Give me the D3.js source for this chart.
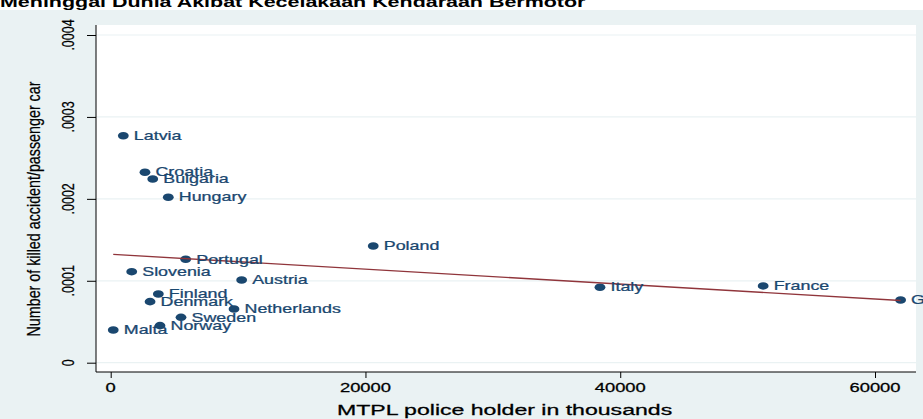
<!DOCTYPE html>
<html>
<head>
<meta charset="utf-8">
<script src="https://cdn.jsdelivr.net/npm/d3@7"></script>
<style>
    body { margin: 0; background: #ffffff; }
    text { font-family: Arial, "Liberation Sans", sans-serif; }
</style>
</head>
<body>
<div id="chart"></div>
<script>
// data
var countries = ["Latvia", "Croatia", "Bulgaria", "Hungary", "Poland", "Portugal", "Slovenia", "Austria",
    "Finland", "Denmark", "Netherlands", "Sweden", "Norway", "Malta", "Italy", "France", "Germany"]
var holders = [990, 2690, 3300, 4520, 20610, 5890, 1650, 10280, 3740, 3090, 9680, 5520, 3870, 200, 38410, 51220, 62010]
var killed = [0.000277, 0.0002325, 0.0002243, 0.000202, 0.0001425, 0.0001262, 0.0001111, 0.000101,
    0.0000839, 0.0000745, 0.0000656, 0.0000554, 0.0000452, 0.0000399, 0.0000921, 0.0000937, 0.0000766]
var xTicks = [0, 20000, 40000, 60000]
var yTicks = [0, 0.0001, 0.0002, 0.0003, 0.0004]
var yTickLabels = ["0", ".0001", ".0002", ".0003", ".0004"]

var width = 923, height = 419
var plot = { left: 96, right: 916, top: 25, bottom: 372 }
var navy = "#1a476f", maroon = "#90353b", bg = "#eaf2f3"

var svg = d3.select("#chart")
    .append("svg")
    .attr("width", width)
    .attr("height", height)

// graph region + plot region
svg.append("rect").attr("x", 0).attr("y", 10).attr("width", width).attr("height", height - 10).style("fill", bg)
svg.append("rect")
    .attr("x", plot.left).attr("y", plot.top)
    .attr("width", plot.right - plot.left).attr("height", plot.bottom - plot.top)
    .style("fill", "#ffffff")

var xScale = d3.scaleLinear().domain([0, 60000]).range([110.7, 875])
var yScale = d3.scaleLinear().domain([0, 0.0004]).range([362.7, 35])

// stretched text helper (the picture is wider than it is tall)
function stretchText(g, x, y, str, size, sx, anchor, color) {
    return g.append("text")
        .attr("transform", "translate(" + x + "," + y + ") scale(" + sx + ",1)")
        .attr("text-anchor", anchor || "start")
        .style("font-size", size + "px")
        .style("fill", color || "#000")
        .style("stroke", color || "#000")
        .style("stroke-width", 0.25)
        .text(str)
}

// title, cut at the top
stretchText(svg, 0, 6.5, "Meninggal Dunia Akibat Kecelakaan Kendaraan Bermotor", 14.5, 1.48)
    .style("font-weight", "bold")
    .style("stroke-width", 0)

// grid lines
svg.append("g")
    .selectAll("line")
    .data(yTicks)
    .enter()
    .append("line")
    .attr("x1", plot.left).attr("x2", plot.right)
    .attr("y1", function (d) { return yScale(d) })
    .attr("y2", function (d) { return yScale(d) })
    .style("stroke", bg)
    .style("stroke-width", 1.2)

// Y axis
var yAxis = svg.append("g")
    .attr("transform", "translate(" + plot.left + ",0)")
    .call(d3.axisLeft(yScale).tickValues(yTicks).tickSize(9).tickFormat(""))
yAxis.select(".domain").remove()
yAxis.selectAll(".tick line").style("stroke", "#000")
svg.append("line")
    .attr("x1", plot.left).attr("x2", plot.left)
    .attr("y1", plot.top).attr("y2", plot.bottom)
    .style("stroke", "#000").style("stroke-width", 1)

svg.append("g")
    .selectAll("text")
    .data(yTicks)
    .enter()
    .append("text")
    .attr("transform", function (d) { return "translate(74," + yScale(d) + ") rotate(-90) scale(1,1.25)" })
    .attr("text-anchor", "middle")
    .style("font-size", "12.5px")
    .style("stroke", "#000")
    .style("stroke-width", 0.2)
    .text(function (d, i) { return yTickLabels[i] })

// Y axis label
svg.append("text")
    .attr("transform", "translate(39.5,209) rotate(-90) scale(1,1.22)")
    .attr("text-anchor", "middle")
    .style("font-size", "14.3px")
    .style("stroke", "#000")
    .style("stroke-width", 0.2)
    .text("Number of killed accident/passenger car")

// X axis
var xAxis = svg.append("g")
    .attr("transform", "translate(0," + plot.bottom + ")")
    .call(d3.axisBottom(xScale).tickValues(xTicks).tickSize(6).tickFormat(""))
xAxis.select(".domain").remove()
xAxis.selectAll(".tick line").style("stroke", "#000")
svg.append("line")
    .attr("x1", plot.left).attr("x2", plot.right)
    .attr("y1", plot.bottom).attr("y2", plot.bottom)
    .style("stroke", "#000").style("stroke-width", 1)

xTicks.forEach(function (d) {
    stretchText(svg, xScale(d), 391.5, d, 12.5, 1.47, "middle")
})

// X axis label
stretchText(svg, 504.6, 415, "MTPL police holder in thousands", 14, 1.65, "middle")

// linear fit (least squares on the points)
var mx = d3.mean(holders), my = d3.mean(killed)
var sxy = d3.sum(holders, function (d, i) { return (d - mx) * (killed[i] - my) })
var sxx = d3.sum(holders, function (d) { return (d - mx) * (d - mx) })
var slope = sxy / sxx, icpt = my - slope * mx
var fitX = [d3.min(holders), d3.max(holders)]

// dots
var points = countries.map(function (c, i) { return { name: c, x: holders[i], y: killed[i] } })
svg.append("g")
    .selectAll("ellipse")
    .data(points)
    .enter()
    .append("ellipse")
    .attr("cx", function (d) { return xScale(d.x) })
    .attr("cy", function (d) { return yScale(d.y) })
    .attr("rx", 5.4)
    .attr("ry", 3.8)
    .style("fill", navy)

// fit line
svg.append("path")
    .datum(fitX)
    .attr("d", d3.line()
        .x(function (d) { return xScale(d) })
        .y(function (d) { return yScale(icpt + slope * d) }))
    .style("fill", "none")
    .style("stroke", maroon)
    .style("stroke-width", 1.3)

// marker labels
points.forEach(function (d) {
    stretchText(svg, xScale(d.x) + 10.5, yScale(d.y) + 4.2, d.name, 12, 1.49, "start", navy)
})
</script>
</body>
</html>
